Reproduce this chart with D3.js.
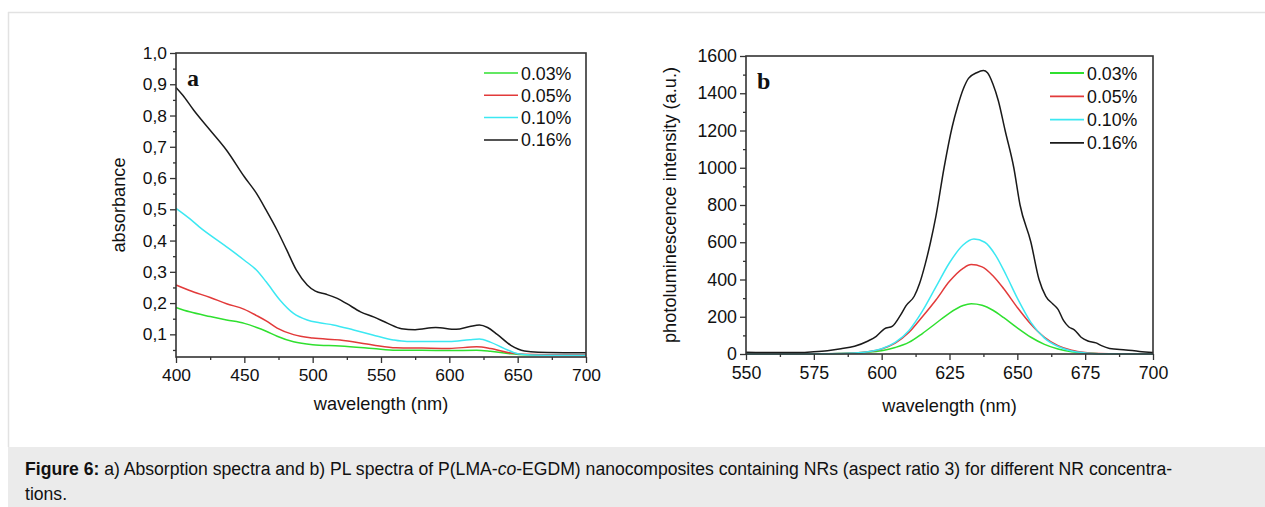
<!DOCTYPE html>
<html>
<head>
<meta charset="utf-8">
<script src="https://cdn.jsdelivr.net/npm/d3@7"></script>
<style>
  body { margin: 0; background: #fff; }
  svg { display: block; font-family: "Liberation Sans", Arial, sans-serif; }
</style>
</head>
<body>
<svg id="fig" width="1265" height="507"></svg>
<script>
// Figure 6: absorption (a) and PL (b) spectra for four NR concentrations
const seriesNames = ["0.03%", "0.05%", "0.10%", "0.16%"];
const seriesColors = ["#2fe02f", "#e23a3a", "#3ce8f2", "#1a1a1a"];

// panel a: absorbance vs wavelength, [nm, value]
const absGreen = [[400,0.186],[410,0.172],[425,0.157],[437,0.146],[450,0.135],[459,0.122],[466,0.110],[474,0.094],[486,0.076],[500,0.067],[520,0.063],[544,0.055],[561,0.049],[580,0.049],[600,0.048],[620,0.049],[630,0.046],[645,0.038],[655,0.035],[670,0.034],[700,0.034]];
const absRed   = [[400,0.258],[410,0.240],[425,0.218],[437,0.198],[450,0.180],[459,0.160],[466,0.143],[474,0.120],[486,0.099],[500,0.088],[520,0.082],[544,0.066],[561,0.057],[580,0.056],[600,0.055],[620,0.060],[630,0.055],[645,0.040],[655,0.036],[670,0.035],[700,0.035]];
const absCyan  = [[400,0.503],[410,0.470],[417,0.444],[437,0.380],[450,0.337],[459,0.305],[466,0.268],[476,0.210],[486,0.167],[496,0.146],[505,0.137],[515,0.130],[530,0.114],[544,0.098],[559,0.082],[569,0.077],[585,0.077],[600,0.077],[615,0.083],[622,0.085],[630,0.075],[640,0.055],[650,0.038],[660,0.034],[680,0.033],[700,0.033]];
const absBlack = [[400,0.890],[405,0.865],[413,0.817],[425,0.753],[437,0.689],[450,0.604],[459,0.550],[466,0.497],[474,0.433],[481,0.370],[488,0.306],[496,0.258],[502,0.238],[510,0.228],[518,0.215],[525,0.198],[535,0.172],[545,0.155],[555,0.135],[565,0.118],[575,0.115],[590,0.122],[605,0.116],[615,0.125],[622,0.130],[628,0.122],[635,0.100],[645,0.065],[655,0.047],[665,0.043],[700,0.041]];

// panel b: PL intensity vs wavelength, [nm, a.u.]
const plGreen = [[550,0],[580,1],[585,3],[590,6],[595,10],[600,18],[605,35],[610,62],[615,110],[620,165],[625,220],[630,260],[633,270],[637,262],[641,235],[645,195],[650,140],[655,90],[660,52],[665,27],[670,12],[675,5],[680,2],[700,0]];
const plRed   = [[550,0],[580,1],[590,5],[595,12],[600,27],[605,58],[610,115],[615,200],[620,290],[625,390],[630,460],[633,480],[637,468],[641,420],[645,350],[650,250],[655,160],[660,90],[665,45],[670,20],[675,8],[680,3],[700,0]];
const plCyan  = [[550,0],[580,1],[590,5],[595,12],[600,28],[605,62],[610,125],[615,230],[620,360],[625,490],[630,585],[634,617],[638,600],[642,530],[646,420],[650,300],[655,170],[660,85],[665,40],[670,16],[675,6],[680,2],[700,0]];
const plBlack = [[550,10],[560,8],[570,8],[575,12],[580,18],[585,28],[590,42],[595,70],[598,95],[601,135],[604,150],[607,210],[609,260],[612,310],[614,380],[616,480],[618,600],[620,740],[623,1000],[626,1220],[628,1330],[630,1420],[632,1480],[635,1510],[637.5,1522],[639,1510],[641,1450],[643,1360],[645.5,1200],[648.7,1000],[651,800],[655,600],[658,400],[660.5,310],[663,270],[665,240],[667,180],[669,145],[671,130],[673.5,90],[676,70],[679,60],[681,45],[684,30],[690,22],[695,14],[700,8]];

const absTicks = [0.1,0.2,0.3,0.4,0.5,0.6,0.7,0.8,0.9,1.0];
const absMinor = [0.05,0.15,0.25,0.35,0.45,0.55,0.65,0.75,0.85,0.95];
const absXTicks = [400,450,500,550,600,650,700];
const absXMinor = [425,475,525,575,625,675];
const plTicks = [0,200,400,600,800,1000,1200,1400,1600];
const plMinor = [100,300,500,700,900,1100,1300,1500];
const plXTicks = [550,575,600,625,650,675,700];
const plXMinor = [562.5,587.5,612.5,637.5,662.5,687.5];

const svg = d3.select("#fig");

// page frame + caption band
svg.append("line").attr("x1", 8).attr("x2", 1265).attr("y1", 12.5).attr("y2", 12.5)
  .attr("stroke", "#e2e2e2").attr("stroke-width", 1.5);
svg.append("line").attr("x1", 8.5).attr("x2", 8.5).attr("y1", 12).attr("y2", 447)
  .attr("stroke", "#e2e2e2").attr("stroke-width", 1.5);
svg.append("rect").attr("x", 8).attr("y", 447).attr("width", 1257).attr("height", 60)
  .attr("fill", "#ebebeb");

const cap = svg.append("text").attr("x", 25).attr("y", 475)
  .style("font-size", "17.6px").style("fill", "#111");
cap.append("tspan").style("font-weight", "bold").text("Figure 6:");
cap.append("tspan").text(" a) Absorption spectra and b) PL spectra of P(LMA-");
cap.append("tspan").style("font-style", "italic").text("co");
cap.append("tspan").text("-EGDM) nanocomposites containing NRs (aspect ratio 3) for different NR concentra-");
svg.append("text").attr("x", 25).attr("y", 500)
  .style("font-size", "17.6px").style("fill", "#111").text("tions.");

function panel(opt) {
  const x = d3.scaleLinear().domain(opt.xDomain).range([opt.left, opt.right]);
  const y = d3.scaleLinear().domain(opt.yDomain).range([opt.bottom, opt.top]);
  const g = svg.append("g");
  const axisColor = "#333";

  // series
  const line = d3.line().x(d => x(d[0])).y(d => y(d[1])).curve(d3.curveMonotoneX);
  opt.series.forEach((s, i) => {
    g.append("path").datum(s).attr("d", line)
      .attr("fill", "none").attr("stroke", seriesColors[i]).attr("stroke-width", 1.5);
  });

  // axes
  const xAx = g.append("g").attr("transform", `translate(0,${opt.bottom})`)
    .call(d3.axisBottom(x).tickValues(opt.xTicks).tickSize(6).tickPadding(6).tickFormat(d3.format("d")));
  g.append("g").attr("transform", `translate(0,${opt.bottom})`)
    .call(d3.axisBottom(x).tickValues(opt.xMinor).tickSize(3).tickFormat(""));
  const yAx = g.append("g").attr("transform", `translate(${opt.left},0)`)
    .call(d3.axisLeft(y).tickValues(opt.yTicks).tickSize(6).tickPadding(3).tickFormat(opt.yFormat));
  g.append("g").attr("transform", `translate(${opt.left},0)`)
    .call(d3.axisLeft(y).tickValues(opt.yMinor).tickSize(3).tickFormat(""));
  g.selectAll(".domain").remove();
  g.selectAll(".tick line").attr("stroke", axisColor).attr("stroke-width", 1.3);
  [xAx, yAx].forEach(a => a.selectAll("text")
    .style("font-size", opt.tickFont).style("font-family", "Liberation Sans, Arial, sans-serif").attr("fill", "#111"));

  // frame
  g.append("rect").attr("x", opt.left).attr("y", opt.top)
    .attr("width", opt.right - opt.left).attr("height", opt.bottom - opt.top)
    .attr("fill", "none").attr("stroke", axisColor).attr("stroke-width", 1.6);

  // titles
  g.append("text").attr("x", (opt.left + opt.right) / 2).attr("y", opt.xTitleY)
    .attr("text-anchor", "middle").style("font-size", "18.2px").style("fill", "#111")
    .text("wavelength (nm)");
  g.append("text").attr("transform", `translate(${opt.yTitleX},${(opt.top + opt.bottom) / 2}) rotate(-90)`)
    .attr("text-anchor", "middle").style("font-size", "18.2px").style("fill", "#111")
    .text(opt.yTitle);

  // panel letter
  g.append("text").attr("x", opt.left + 11).attr("y", opt.top + 33)
    .style("font-family", "Liberation Serif, Times New Roman, serif")
    .style("font-weight", "bold").style("font-size", "24px").style("fill", "#111")
    .text(opt.letter);

  // legend
  seriesNames.forEach((n, i) => {
    const ly = opt.legY + i * opt.legStep;
    g.append("line").attr("x1", opt.legX).attr("x2", opt.legX + opt.legLen)
      .attr("y1", ly).attr("y2", ly)
      .attr("stroke", seriesColors[i]).attr("stroke-width", opt.legWidth);
    g.append("text").attr("x", opt.legX + opt.legLen + 3).attr("y", ly + 6.5)
      .style("font-size", "17.8px").style("fill", "#111").text(n);
  });
}

panel({
  left: 176, right: 586, top: 53, bottom: 357,
  xDomain: [400, 700], yDomain: [0.0275, 1.0],
  xTicks: absXTicks, xMinor: absXMinor, yTicks: absTicks, yMinor: absMinor.filter(v => v > 0.0275),
  yFormat: d => d3.format(".1f")(d).replace(".", ","),
  yTitle: "absorbance", yTitleX: 125, xTitleY: 410, tickFont: "17.4px",
  series: [absGreen, absRed, absCyan, absBlack],
  letter: "a",
  legX: 484, legLen: 34, legY: 73, legStep: 22.3, legWidth: 1.5
});

panel({
  left: 746, right: 1153, top: 56, bottom: 354,
  xDomain: [550, 700], yDomain: [0, 1600],
  xTicks: plXTicks, xMinor: plXMinor, yTicks: plTicks, yMinor: plMinor,
  yFormat: d3.format("d"),
  yTitle: "photoluminescence intensity (a.u.)", yTitleX: 676, xTitleY: 412, tickFont: "17.8px",
  series: [plGreen, plRed, plCyan, plBlack],
  letter: "b",
  legX: 1050, legLen: 34, legY: 73, legStep: 23.3, legWidth: 1.8
});
</script>
</body>
</html>
